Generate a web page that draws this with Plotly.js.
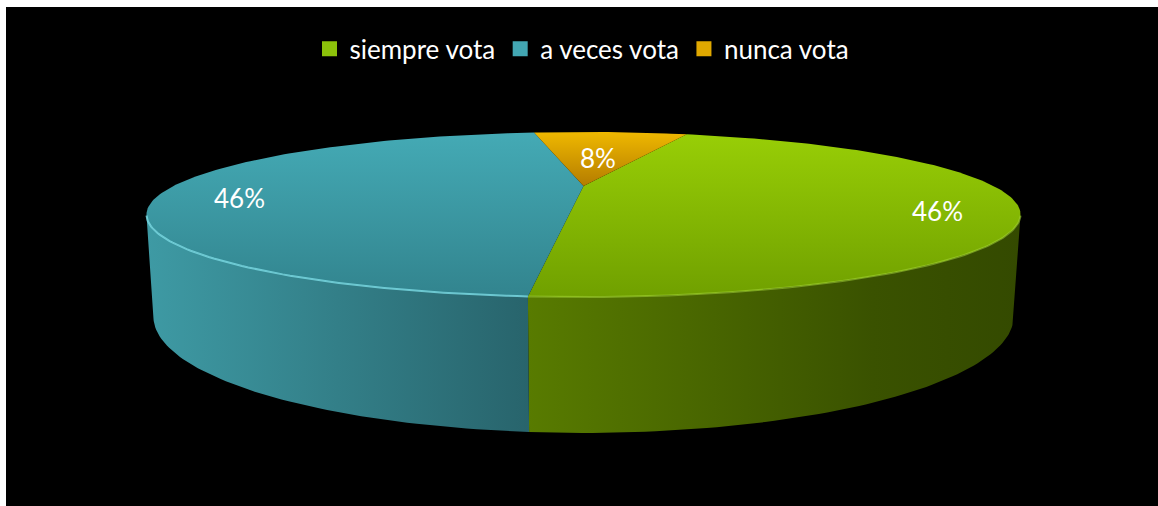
<!DOCTYPE html>
<html><head><meta charset="utf-8">
<script src="https://cdn.plot.ly/plotly-3.0.1.min.js"></script>
<style>html,body{margin:0;padding:0;background:#fff;}#chart{width:1158px;height:506px;}</style>
</head><body><div id="chart"></div>
<script>
// ---- data ----
const categories = ['siempre vota', 'a veces vota', 'nunca vota'];
const values = [46, 46, 8];
const labelTexts = ['46%', '46%', '8%'];

// ---- styles ----
const topColors  = [['#98ce06', '#70a000'], ['#44aab5', '#32848e'], ['#efb800', '#b47c00']]; // [far, near]
const sideColors = [[[0, '#587b00'], [0.7, '#3a5200'], [1, '#344a00']],
                    [[0, '#3e9aa4'], [1, '#28646c']],
                    [[0, '#b07800'], [1, '#7a5200']]];
const rimColors  = ['rgba(170,220,60,0.5)', 'rgba(120,215,225,0.85)', 'rgba(255,220,90,0.8)'];
const legendColors = ['#8cc20a', '#43a7b3', '#e0a800'];
const FIRST_SLICE_ANGLE = 19.5; // degrees clockwise from 12 o'clock

// ---- 3D perspective projection (screen pixels) ----
const CX = 583.5, CY = 186, F = 1168, D = 2.848, SPH = 0.1772, H = 0.229;
const CPH = Math.sqrt(1 - SPH * SPH);
function proj(x, y, z) {
  const zc = y * CPH - z * SPH + D;
  const yc = y * SPH + z * CPH;
  return [CX + F * x / zc, CY - F * yc / zc];
}
const rad = d => d * Math.PI / 180;
function arc(t1, t2, z, r) {
  r = r || 1;
  const n = Math.max(2, Math.ceil(Math.abs(t2 - t1)));
  const pts = [];
  for (let i = 0; i <= n; i++) {
    const t = t1 + (t2 - t1) * i / n;
    pts.push(proj(r * Math.cos(rad(t)), r * Math.sin(rad(t)), z));
  }
  return pts;
}
const silh = Math.asin(1 / (D * CPH)) * 180 / Math.PI;
const V1 = -180 + silh, V2 = -silh;

const total = values.reduce((a, b) => a + b, 0);
const slices = [];
let cum = 0;
values.forEach((v, i) => {
  const span = v / total * 360;
  const tStart = 90 - FIRST_SLICE_ANGLE - cum;
  const tEnd = tStart - span;
  cum += span;
  slices.push({i, tStart, tEnd, frac: v / total});
});

const traces = [];
function poly(pts, extra) {
  return Object.assign({
    type: 'scatter', mode: 'lines', x: pts.map(p => p[0]), y: pts.map(p => p[1]),
    fill: 'toself', line: {width: 0}, hoverinfo: 'skip', showlegend: false
  }, extra);
}
// side walls
const rims = [];
slices.forEach(s => {
  for (let k = -2; k <= 2; k++) {
    const lo = Math.max(s.tEnd, V1 + 360 * k), hi = Math.min(s.tStart, V2 + 360 * k);
    if (hi > lo) {
      const pts = arc(lo, hi, 0).concat(arc(hi, lo, -H));
      pts.push(pts[0]);
      traces.push(poly(pts, {fillcolor: sideColors[s.i][0][1],
        fillgradient: {type: 'horizontal', colorscale: sideColors[s.i]}}));
      rims.push({i: s.i, pts: arc(lo, hi, 0)});
    }
  }
});
// top faces (gradient: colorscale 0 = bottom of screen)
slices.forEach(s => {
  const c = proj(0, 0, 0);
  const pts = [c].concat(arc(s.tStart, s.tEnd, 0)).concat([c]);
  traces.push(poly(pts, {fillcolor: topColors[s.i][0],
    fillgradient: {type: 'vertical', colorscale: [[0, topColors[s.i][1]], [1, topColors[s.i][0]]]}}));
});
// rim highlights
rims.forEach(r => {
  traces.push({type: 'scatter', mode: 'lines', x: r.pts.map(p => p[0]), y: r.pts.map(p => p[1]),
    line: {width: 2, color: rimColors[r.i]}, hoverinfo: 'skip', showlegend: false});
});
// legend entries
categories.forEach((c, i) => {
  traces.push({type: 'scatter', mode: 'markers', x: [null], y: [null], name: c,
    marker: {symbol: 'square', size: 15, color: legendColors[i], line: {width: 0}}});
});

// labels
const annotations = slices.map(s => {
  const tmd = (s.tStart + s.tEnd) / 2, tm = rad(tmd);
  const r = s.frac < 0.15 ? 0.45 : 0.83;
  const p = proj(r * Math.cos(tm), r * Math.sin(tm), 0);
  return {x: p[0], y: p[1], xref: 'x', yref: 'y', text: labelTexts[s.i], showarrow: false,
    xanchor: 'center', yanchor: 'middle', yshift: -9 * (1 - Math.sin(tm)),
    font: {family: 'Lato, "Open Sans", sans-serif', size: 26, color: '#ffffff'}};
});

const layout = {
  width: 1158, height: 506,
  margin: {l: 6, r: 0, t: 7, b: 0, pad: 0},
  paper_bgcolor: '#ffffff', plot_bgcolor: '#000000',
  xaxis: {range: [6, 1158], visible: false, fixedrange: true},
  yaxis: {range: [506, 7], visible: false, fixedrange: true},
  showlegend: true,
  legend: {orientation: 'h', x: 0.5, xanchor: 'center', y: 0.916, yanchor: 'middle',
    font: {family: 'Lato, "Open Sans", sans-serif', size: 26, color: '#ffffff'},
    bgcolor: 'rgba(0,0,0,0)', traceorder: 'normal'},
  annotations: annotations
};
Plotly.newPlot('chart', traces, layout, {staticPlot: true, displayModeBar: false});
</script>
</body></html>
